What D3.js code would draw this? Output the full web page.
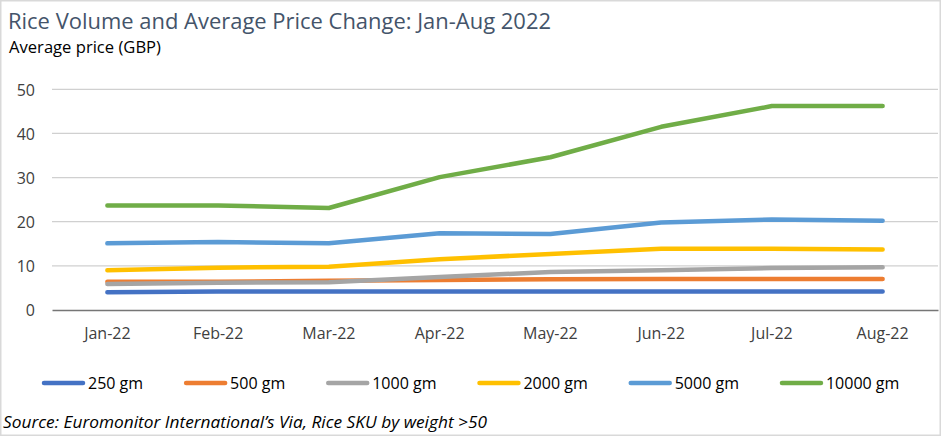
<!DOCTYPE html>
<html><head><meta charset="utf-8">
<script src="https://cdn.jsdelivr.net/npm/d3@7"></script>
<style>
body{margin:0;background:#fff;}
text{font-family:"Open Sans","Noto Sans",sans-serif;}
</style></head>
<body><svg id="c" width="942" height="437"></svg>
<script>
const months = ["Jan-22","Feb-22","Mar-22","Apr-22","May-22","Jun-22","Jul-22","Aug-22"];
const s250   = [4.0, 4.2, 4.2, 4.2, 4.2, 4.2, 4.2, 4.2];
const s500   = [6.4, 6.4, 6.6, 6.8, 6.95, 7.0, 7.0, 7.0];
const s1000  = [5.9, 6.2, 6.3, 7.5, 8.6, 9.0, 9.5, 9.7];
const s2000  = [9.0, 9.6, 9.8, 11.5, 12.7, 13.9, 13.9, 13.7];
const s5000  = [15.1, 15.4, 15.1, 17.4, 17.2, 19.8, 20.5, 20.2];
const s10000 = [23.7, 23.7, 23.1, 30.1, 34.6, 41.5, 46.2, 46.2];
const seriesNames = ["250 gm","500 gm","1000 gm","2000 gm","5000 gm","10000 gm"];
const seriesValues = [s250, s500, s1000, s2000, s5000, s10000];
const colors = ["#4472C4","#ED7D31","#A5A5A5","#FFC000","#5B9BD5","#70AD47"];
const yTicks = [0,10,20,30,40,50];

const svg = d3.select("#c");
svg.append("rect").attr("x",0.75).attr("y",0.75).attr("width",939.5).attr("height",434.5)
  .attr("fill","#fff").attr("stroke","#d9d9d9").attr("stroke-width",1.5);

svg.append("text").attr("x",8).attr("y",28.5).attr("fill","#44546A")
  .style("font-size","21.5px").attr("textLength",543).attr("lengthAdjust","spacingAndGlyphs")
  .text("Rice Volume and Average Price Change: Jan-Aug 2022");
svg.append("text").attr("x",9).attr("y",53).attr("fill","#000")
  .style("font-size","15.5px").attr("textLength",152).attr("lengthAdjust","spacingAndGlyphs")
  .text("Average price (GBP)");

const x = d3.scaleBand().domain(months).range([52,938]);
const y = d3.scaleLinear().domain([0,50]).range([310,89.3]);

svg.append("g").selectAll("line").data(yTicks.filter(d=>d>0)).join("line")
  .attr("x1",52).attr("x2",938).attr("y1",d=>y(d)).attr("y2",d=>y(d))
  .attr("stroke","#d0d0d0").attr("stroke-width",1.3);

const yAxis = svg.append("g").attr("transform","translate(35,0)")
  .call(d3.axisLeft(y).tickValues(yTicks).tickSize(0).tickPadding(0));
yAxis.select(".domain").remove();
yAxis.selectAll("text").attr("fill","#404040").style("font-size","16px")
  .style("font-family","'Open Sans',sans-serif").attr("dy","0.36em");

const xAxis = svg.append("g").attr("transform","translate(0,310)")
  .call(d3.axisBottom(x).tickSize(0).tickPadding(0));
xAxis.select(".domain").attr("stroke","#767676").attr("stroke-width",1.5);
xAxis.selectAll("text").attr("fill","#404040").style("font-size","16px")
  .style("font-family","'Open Sans',sans-serif").attr("y",28.5).attr("dy",null);

const line = d3.line().x((d,i)=>x(months[i])+x.bandwidth()/2).y(d=>y(d));
svg.append("g").selectAll("path").data(seriesValues).join("path")
  .attr("d",d=>line(d)).attr("fill","none")
  .attr("stroke",(d,i)=>colors[i]).attr("stroke-width",4.5)
  .attr("stroke-linecap","round").attr("stroke-linejoin","round");

// legend
let lxPos = 42;
seriesNames.forEach((n,i)=>{
  const g = svg.append("g").attr("transform",`translate(${lxPos},383)`);
  g.append("line").attr("x1",2).attr("x2",41).attr("y1",0).attr("y2",0)
    .attr("stroke",colors[i]).attr("stroke-width",4.5).attr("stroke-linecap","round");
  const t = g.append("text").attr("x",46).attr("y",5.8).attr("fill","#000")
    .style("font-size","16px").text(n);
  const w = t.node().getComputedTextLength();
  lxPos += 46 + w + 41;
});

svg.append("text").attr("x",3).attr("y",427.5).attr("fill","#000")
  .style("font-size","15.5px").style("font-style","italic")
  .attr("textLength",484).attr("lengthAdjust","spacingAndGlyphs")
  .text("Source: Euromonitor International\u2019s Via, Rice SKU by weight >50");
</script></body></html>
